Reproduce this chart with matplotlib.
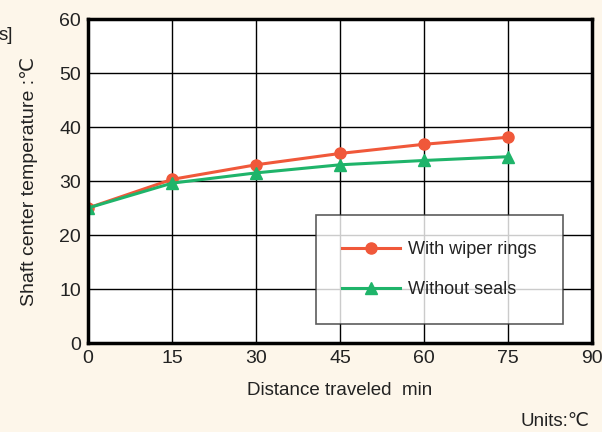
import matplotlib
matplotlib.use('Agg')
import matplotlib.pyplot as plt

plt.rcParams['font.family'] = ['Liberation Sans', 'DejaVu Sans']

distance = [0, 15, 30, 45, 60, 75]
with_wiper = [25.0, 30.3, 33.0, 35.1, 36.8, 38.1]
without_seals = [25.0, 29.6, 31.5, 33.0, 33.8, 34.5]

xticks = [0, 15, 30, 45, 60, 75, 90]
yticks = [0, 10, 20, 30, 40, 50, 60]

bg = '#fdf6ea'
red = '#f0583a'
green = '#1fb46a'

fig = plt.figure(figsize=(6.02, 4.32), dpi=100, facecolor=bg)
ax = fig.add_axes([88/602, 89/432, 504/602, 324/432])
ax.set_facecolor('white')

ax.plot(distance, with_wiper, color=red, lw=2.2, marker='o', ms=8, label='With wiper rings')
ax.plot(distance, without_seals, color=green, lw=2.2, marker='^', ms=9, label='Without seals')

ax.set_xlim(0, 90)
ax.set_ylim(0, 60)
ax.set_xticks(xticks)
ax.set_yticks(yticks)
ax.grid(True, color='black', lw=1)
ax.set_axisbelow(True)
for s in ax.spines.values():
    s.set_linewidth(2.5)
    s.set_color('black')
ax.tick_params(length=0, labelsize=14, pad=5, colors='#222222')

ax.set_xlabel('Distance traveled  min', fontsize=13.5, color='#222222', labelpad=11)
ax.set_ylabel('Shaft center temperature :\u2103', fontsize=14, color='#222222', labelpad=15)

leg = ax.legend(loc='lower right', bbox_to_anchor=(563/602, 108/432),
                bbox_transform=fig.transFigure, fontsize=13, frameon=True,
                fancybox=False, edgecolor='#333333', borderpad=1.45,
                labelspacing=1.25, handlelength=3.2, handletextpad=0.45,
                borderaxespad=0)
leg.get_frame().set_linewidth(1.2)
for t in leg.get_texts():
    t.set_color('#222222')

fig.text(-0.002, 1 - 35/432, 's]', fontsize=13.5, color='#222222', va='center', ha='left')
fig.text(589/602, 1 - 421/432, 'Units:\u2103', fontsize=13.5, color='#222222', va='center', ha='right')

fig.savefig('out.png', dpi=100, facecolor=bg)
